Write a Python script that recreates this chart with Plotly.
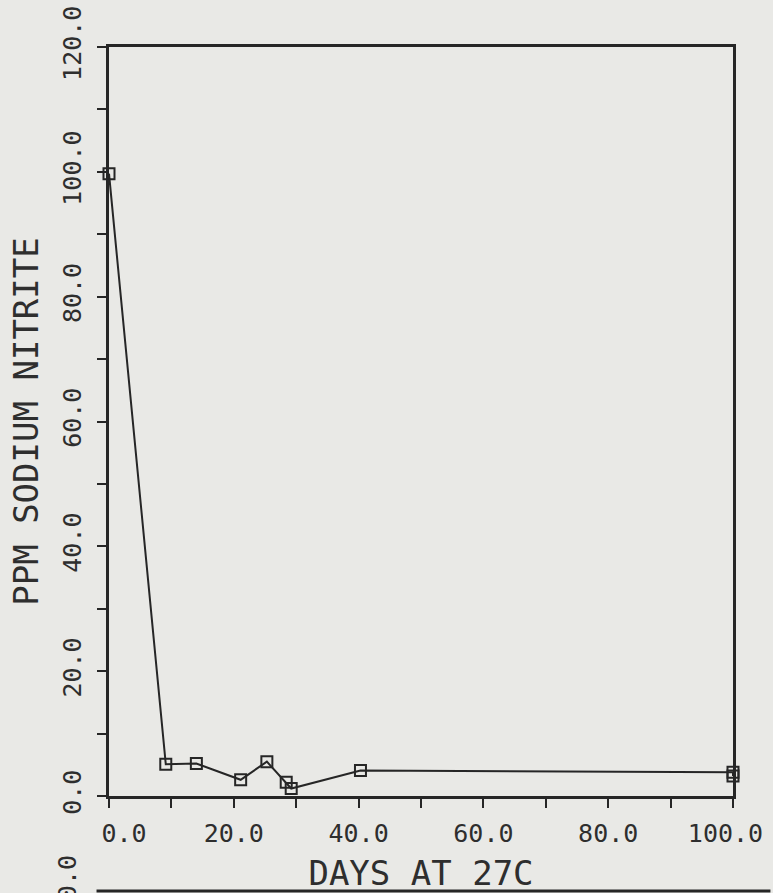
import plotly.graph_objects as go

# Sodium nitrite concentration over storage time at 27 C
days = [0.0, 9.1, 14.0, 21.1, 25.3, 28.4, 29.2, 40.3, 100.0, 100.0]
ppm_nitrite = [99.7, 5.1, 5.2, 2.6, 5.5, 2.2, 1.2, 4.1, 3.8, 3.2]

NB = "\u00a0"
x_ticks = [0, 20, 40, 60, 80, 100]
# end labels are nudged inward, as the plotter set them
x_labels = [NB * 2 + "0.0", "20.0", "40.0", "60.0", "80.0", "100.0" + NB]
y_ticks = [0, 20, 40, 60, 80, 100, 120]
y_labels = ["0.0", "20.0", "40.0", "60.0", "80.0", "100.0", "120.0"]

INK = "#262626"
TEXT = "#2e2e2e"
PAPER = "#e9e9e6"
FONT = "DejaVu Sans Mono"

fig = go.Figure()
fig.add_trace(go.Scatter(
    x=days, y=ppm_nitrite, mode="lines+markers",
    line=dict(color=INK, width=2),
    marker=dict(symbol="square-open", size=11, color=INK, line=dict(width=2, color=INK)),
    cliponaxis=False, showlegend=False,
))

axis_common = dict(
    automargin=False,
    showline=True, linewidth=3, linecolor=INK, mirror=True,
    showgrid=False, zeroline=False,
    ticks="outside", ticklen=9, tickwidth=2, tickcolor=INK,
    tickfont=dict(family=FONT, size=25, color=TEXT),
    ticklabeloverflow="allow",
    minor=dict(dtick=10, ticks="outside", ticklen=9, tickwidth=2, tickcolor=INK, showgrid=False),
)

fig.update_xaxes(
    range=[0, 100], tickvals=x_ticks, ticktext=x_labels,
    title=dict(text="DAYS AT 27C", font=dict(family=FONT, size=34, color=TEXT), standoff=22),
    ticklabelstandoff=4,
    **axis_common,
)
fig.update_yaxes(
    range=[0, 120], tickvals=y_ticks, ticktext=y_labels, tickangle=-90,
    title=dict(text="PPM SODIUM NITRITE", font=dict(family=FONT, size=34, color=TEXT), standoff=10),
    ticklabelstandoff=6,
    **axis_common,
)

# Top edge of the next chart on the page
fig.add_shape(type="line", xref="paper", yref="paper",
              x0=-0.02, x1=1.06, y0=-0.127, y1=-0.127,
              line=dict(color=INK, width=3))
fig.add_annotation(text="120.0", xref="paper", yref="paper",
                   x=-0.066, y=-0.076, textangle=-90, showarrow=False,
                   xanchor="center", yanchor="top",
                   font=dict(family=FONT, size=25, color=TEXT))

fig.update_layout(
    width=773, height=893,
    margin=dict(l=109, r=40, t=47, b=97),
    paper_bgcolor=PAPER, plot_bgcolor=PAPER,
)

fig.write_html("out.html")
